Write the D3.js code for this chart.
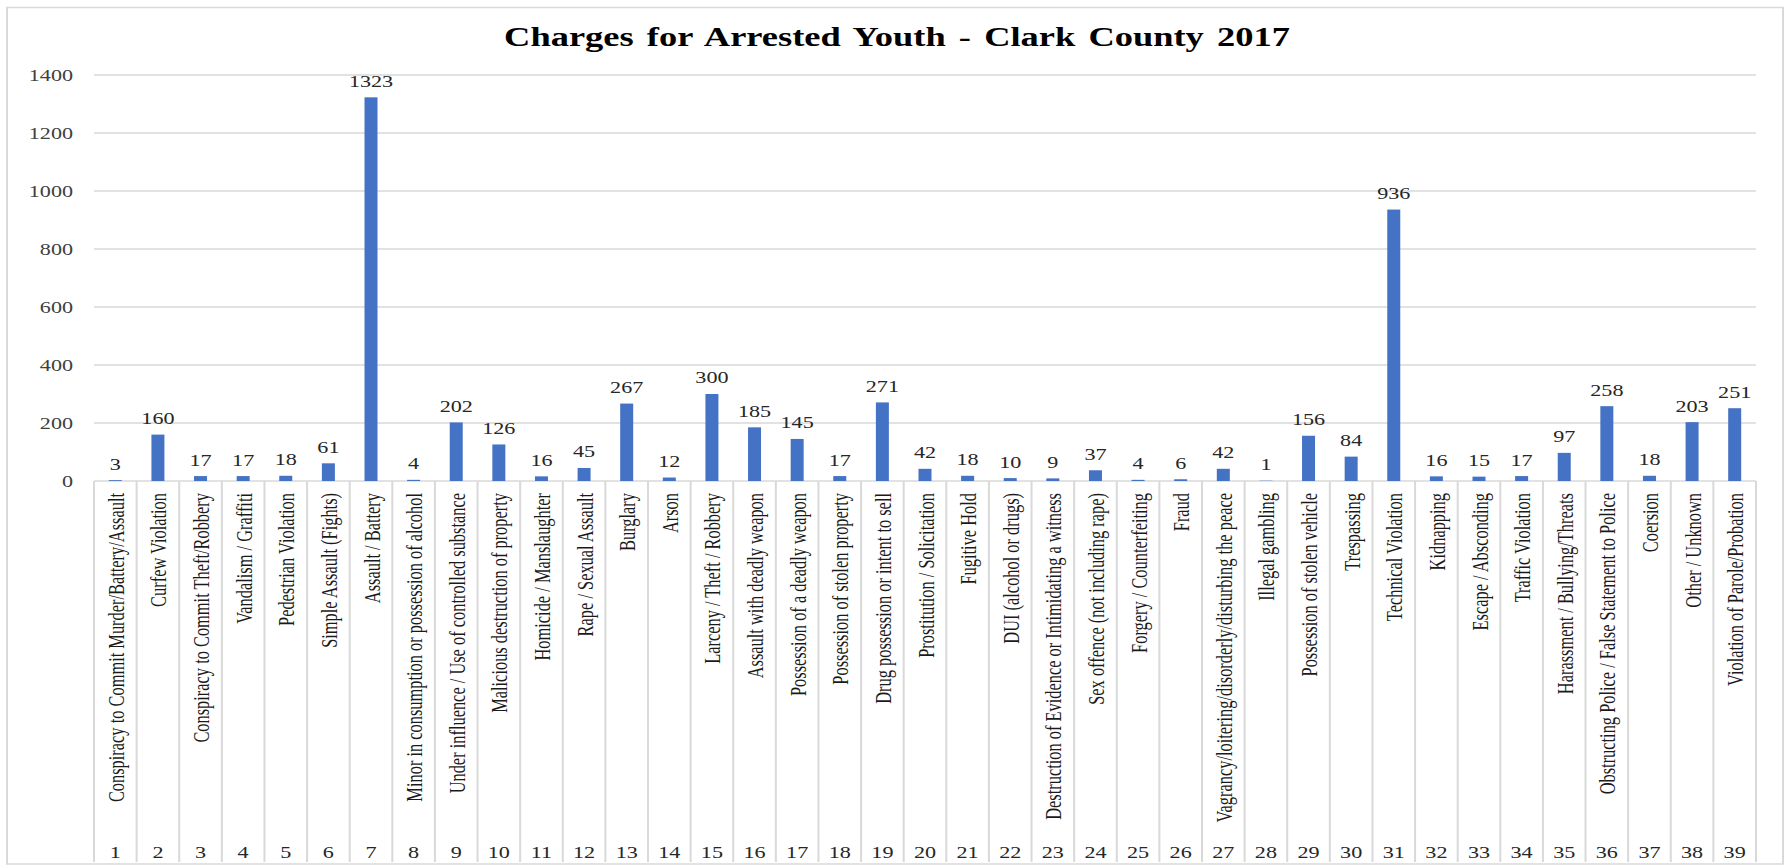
<!DOCTYPE html>
<html>
<head>
<meta charset="utf-8">
<script src="https://cdn.jsdelivr.net/npm/d3@7"></script>
<style>
  html, body { margin: 0; padding: 0; background: #fff; }
  svg { display: block; }
</style>
</head>
<body>
<svg id="chart" width="1792" height="867"></svg>
<script>
// ---- data ----
const title = "Charges for Arrested Youth - Clark County 2017";
const categoryNumbers = d3.range(1, 40);
const categories = [
  "Conspiracy to Commit Murder/Battery/Assault",
  "Curfew Violation",
  "Conspiracy to Commit Theft/Robbery",
  "Vandalism / Graffiti",
  "Pedestrian Violation",
  "Simple Assault (Fights)",
  "Assault / Battery",
  "Minor in consumption or possession of alcohol",
  "Under influence / Use of controlled substance",
  "Malicious destruction of property",
  "Homicide / Manslaughter",
  "Rape / Sexual Assault",
  "Burglary",
  "Arson",
  "Larceny / Theft / Robbery",
  "Assault with deadly weapon",
  "Possession of a deadly weapon",
  "Possession of stolen property",
  "Drug possession or intent to sell",
  "Prostitution / Solicitation",
  "Fugitive Hold",
  "DUI (alcohol or drugs)",
  "Destruction of Evidence or Intimidating a witness",
  "Sex offence (not including rape)",
  "Forgery / Counterfeiting",
  "Fraud",
  "Vagrancy/loitering/disorderly/disturbing the peace",
  "Illegal gambling",
  "Possession of stolen vehicle",
  "Trespassing",
  "Technical Violation",
  "Kidnapping",
  "Escape / Absconding",
  "Traffic Violation",
  "Harassment / Bullying/Threats",
  "Obstructing Police / False Statement to Police",
  "Coersion",
  "Other / Unknown",
  "Violation of Parole/Probation"
];
const values = [3, 160, 17, 17, 18, 61, 1323, 4, 202, 126, 16, 45, 267, 12, 300, 185, 145, 17, 271, 42,
                18, 10, 9, 37, 4, 6, 42, 1, 156, 84, 936, 16, 15, 17, 97, 258, 18, 203, 251];
const yTicks = [0, 200, 400, 600, 800, 1000, 1200, 1400];

// ---- layout (the original picture is stretched horizontally) ----
const sx = 1.35;
const W = 1792 / sx;
const plotLeft = 94 / sx, plotRight = 1756 / sx;
const yBase = 481, yTop = 75;
const labelTop = 493, numY = 858, tableBottom = 862;
const fontSerif = "'Liberation Serif', 'Times New Roman', serif";

const svg = d3.select("#chart");
svg.append("rect").attr("width", 1792).attr("height", 867).attr("fill", "#fff");
const g = svg.append("g").attr("transform", `scale(${sx},1)`);

// border
g.append("rect")
  .attr("x", 7 / sx).attr("y", 7.5)
  .attr("width", (1783 - 7) / sx).attr("height", 864 - 7.5)
  .attr("fill", "none").attr("stroke", "#d9d9d9").attr("stroke-width", 1.5);

const x = d3.scaleBand().domain(categoryNumbers).range([plotLeft, plotRight]).paddingInner(0).paddingOuter(0);
const y = d3.scaleLinear().domain([0, 1400]).range([yBase, yTop]);

// title
g.append("text")
  .attr("x", 897 / sx).attr("y", 46)
  .attr("text-anchor", "middle")
  .attr("font-family", fontSerif).attr("font-weight", "bold")
  .attr("font-size", 27).attr("word-spacing", 3)
  .attr("fill", "#000")
  .text(title);

// gridlines
g.append("g").selectAll("line").data(yTicks.filter(d => d > 0)).join("line")
  .attr("x1", plotLeft).attr("x2", plotRight)
  .attr("y1", d => y(d)).attr("y2", d => y(d))
  .attr("stroke", "#d9d9d9").attr("stroke-width", 1.3);

// y axis labels
const yAxis = d3.axisLeft(y).tickValues(yTicks).tickSize(0).tickPadding(0).tickFormat(d3.format("d"));
const yg = g.append("g").attr("transform", `translate(${73 / sx},0)`).call(yAxis);
yg.select(".domain").remove();
yg.selectAll("text")
  .attr("font-family", fontSerif).attr("font-size", 16.4).attr("fill", "#404040")
  .attr("dy", "0.34em");

// table: baseline + vertical separators
g.append("line")
  .attr("x1", plotLeft).attr("x2", plotRight).attr("y1", yBase).attr("y2", yBase)
  .attr("stroke", "#d9d9d9").attr("stroke-width", 1.5);
const seps = categoryNumbers.map(d => x(d)).concat([plotRight]);
g.append("g").selectAll("line").data(seps).join("line")
  .attr("x1", d => d).attr("x2", d => d)
  .attr("y1", yBase).attr("y2", tableBottom)
  .attr("stroke", "#d9d9d9").attr("stroke-width", 1.5);

// bars
const barW = x.bandwidth() * 0.305;
g.append("g").selectAll("rect").data(values).join("rect")
  .attr("x", (d, i) => x(categoryNumbers[i]) + x.bandwidth() / 2 - barW / 2)
  .attr("y", d => y(d))
  .attr("width", barW)
  .attr("height", d => yBase - y(d))
  .attr("fill", "#4472C4");

// value labels
g.append("g").selectAll("text").data(values).join("text")
  .attr("x", (d, i) => x(categoryNumbers[i]) + x.bandwidth() / 2)
  .attr("y", d => y(d) - 10.5)
  .attr("text-anchor", "middle")
  .attr("font-family", fontSerif).attr("font-size", 16.4).attr("fill", "#262626")
  .text(d => d);

// rotated category labels
g.append("g").selectAll("text").data(categories).join("text")
  .attr("transform", (d, i) => `translate(${x(categoryNumbers[i]) + x.bandwidth() / 2 + 0.6},${labelTop}) rotate(-90)`)
  .attr("text-anchor", "end")
  .attr("dy", "0.35em")
  .attr("font-family", fontSerif).attr("font-size", 16.4).attr("fill", "#1a1a1a")
  .text(d => d);

// category numbers
g.append("g").selectAll("text").data(categoryNumbers).join("text")
  .attr("x", d => x(d) + x.bandwidth() / 2)
  .attr("y", numY)
  .attr("text-anchor", "middle")
  .attr("font-family", fontSerif).attr("font-size", 16.4).attr("fill", "#262626")
  .text(d => d);
</script>
</body>
</html>
